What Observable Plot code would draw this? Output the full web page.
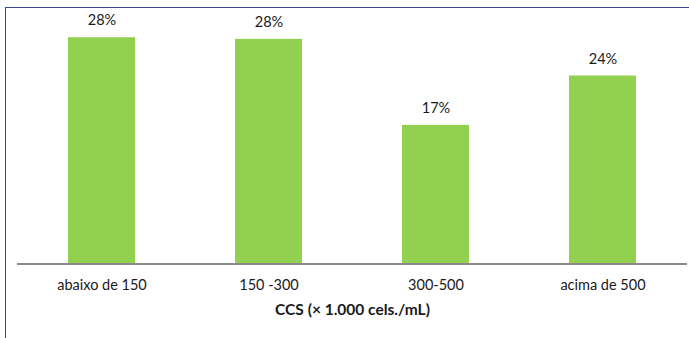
<!DOCTYPE html>
<html>
<head>
<meta charset="utf-8">
<script src="https://cdn.jsdelivr.net/npm/d3@7"></script>
<script src="https://cdn.jsdelivr.net/npm/@observablehq/plot@0.6"></script>
<style>
  html, body { margin: 0; padding: 0; background: #fff; }
  #wrap { position: relative; width: 689px; height: 338px; overflow: hidden; }
  #frame { position: absolute; left: 5px; top: 7px; width: 800px; height: 400px;
           border-left: 1.5px solid #3a4796; border-top: 1.5px solid #3a4796; }
  #chart { position: absolute; left: 0; top: 0; }
</style>
</head>
<body>
<div id="wrap"><div id="frame"></div><div id="chart"></div></div>
<script>
const categories = ["abaixo de 150", "150 -300", "300-500", "acima de 500"];
const values = [28.4, 28.2, 17.4, 23.6];
const axisTitle = "CCS (× 1.000 cels./mL)";

const data = categories.map((c, i) => ({category: c, value: values[i]}));

const chart = Plot.plot({
  width: 689,
  height: 338,
  marginLeft: 17,
  marginRight: 2,
  marginTop: 24.5,
  marginBottom: 74.5,
  style: {fontFamily: "Lato, 'Open Sans', sans-serif", fontSize: "14.5px", color: "#1a1a1a", background: "transparent"},
  x: {domain: categories, paddingInner: 0.6, paddingOuter: 0.3, label: null},
  y: {domain: [0, 30], axis: null},
  marks: [
    Plot.barY(data, {x: "category", y: "value", fill: "#92d050"}),
    Plot.ruleY([0], {stroke: "#898989", strokeWidth: 2}),
    Plot.text(data, {x: "category", y: "value", text: d => Math.round(d.value) + "%", dy: -17, fill: "#1a1a1a", fontSize: 14.5}),
    Plot.axisX({tickSize: 0, tickPadding: 16, label: null, fill: "#1a1a1a", fontSize: 14.5}),
    Plot.text([axisTitle], {frameAnchor: "bottom", dy: 51, fontWeight: "bold", fill: "#1a1a1a", fontSize: 15.5})
  ]
});
document.getElementById("chart").appendChild(chart);
</script>
</body>
</html>
